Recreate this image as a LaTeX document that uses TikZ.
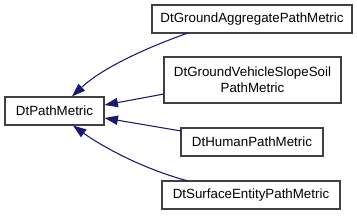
\documentclass[tikz,border=0pt]{standalone}
\usepackage{fontspec}
\setmainfont{Liberation Sans}
\usetikzlibrary{arrows.meta}
\definecolor{edgeblue}{HTML}{191970}
\definecolor{boxline}{HTML}{404040}
\begin{document}
\begin{tikzpicture}[x=0.75pt,y=-0.75pt,
  cls/.style={draw=boxline,line width=0.9pt,fill=white,inner sep=0pt,font=\fontsize{10}{12}\selectfont,align=center},
  inh/.style={draw=edgeblue,line width=0.8pt,-{Triangle[length=10pt,width=7pt]}}]
\useasboundingbox (0,0) rectangle (357,216);
\node[cls,minimum width=99*0.75pt,minimum height=28*0.75pt] (base) at (54.5,111) {DtPathMetric};
\node[cls,minimum width=200*0.75pt,minimum height=28*0.75pt] (ga) at (252,19) {DtGroundAggregatePathMetric};
\node[cls,minimum width=177*0.75pt,minimum height=46*0.75pt] (gv) at (252.5,80) {DtGroundVehicleSlopeSoil\\PathMetric};
\node[cls,minimum width=142*0.75pt,minimum height=28*0.75pt] (hu) at (252,142) {DtHumanPathMetric};
\node[cls,minimum width=178*0.75pt,minimum height=28*0.75pt] (se) at (251,195) {DtSurfaceEntityPathMetric};
\coordinate (gaS) at (188,33);
\coordinate (gvW) at (164,94);
\coordinate (huW) at (181,131);
\coordinate (seN) at (188,181);
\draw[inh] (gaS) .. controls (140,50) and (100,70) .. (base.north -| 72,0);
\draw[inh] (gvW) -- (base.east |- 0,105);
\draw[inh] (huW) -- (base.east |- 0,118);
\draw[inh] (seN) .. controls (140,168) and (100,145) .. (base.south -| 73,0);
\end{tikzpicture}
\end{document}
